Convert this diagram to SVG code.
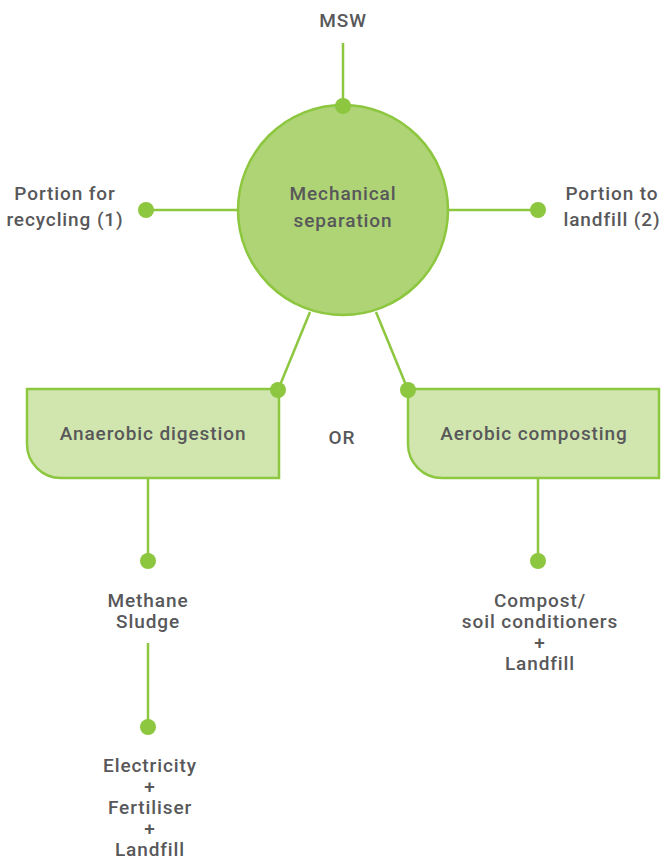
<svg xmlns="http://www.w3.org/2000/svg" width="663" height="861" viewBox="0 0 663 861">
<style>
.t{font-family:Roboto,"Liberation Sans",sans-serif;font-size:19px;letter-spacing:0.9px;fill:#58585a;text-anchor:middle;font-weight:500}
.ln{stroke:#8dc63f;stroke-width:2.5;fill:none}
.dot{fill:#8dc63f}
</style>
<rect width="663" height="861" fill="#fff"/>
<g id="connectors">
<line class="ln" x1="343" y1="43" x2="343" y2="106"/>
<line class="ln" x1="146" y1="210" x2="238" y2="210"/>
<line class="ln" x1="448" y1="210" x2="538" y2="210"/>
<line class="ln" x1="310" y1="312" x2="278" y2="390"/>
<line class="ln" x1="376" y1="312" x2="408" y2="390"/>
<line class="ln" x1="148" y1="478" x2="148" y2="561"/>
<line class="ln" x1="148" y1="643" x2="148" y2="727"/>
<line class="ln" x1="538" y1="478" x2="538" y2="561"/>
</g>
<g id="msw"><text class="t" x="343" y="27">MSW</text></g>
<g id="mech">
<circle cx="343" cy="210" r="105" fill="#aed476" stroke="#8dc63f" stroke-width="2.5"/>
<text class="t" x="343" y="200">Mechanical</text>
<text class="t" x="343" y="227">separation</text>
</g>
<g id="recycling">
<text class="t" x="65" y="200">Portion for</text>
<text class="t" x="65" y="226">recycling (1)</text>
</g>
<g id="landfill2">
<text class="t" x="612" y="200">Portion to</text>
<text class="t" x="612" y="226">landfill (2)</text>
</g>
<g id="anaerobic">
<path d="M27,389 H279 V478 H61 A34,34 0 0 1 27,444 Z" fill="#d1e6ae" stroke="#8dc63f" stroke-width="2.5"/>
<text class="t" x="153" y="440">Anaerobic digestion</text>
</g>
<g id="or"><text class="t" x="342" y="444">OR</text></g>
<g id="aerobic">
<path d="M408,389 H659 V478 H442 A34,34 0 0 1 408,444 Z" fill="#d1e6ae" stroke="#8dc63f" stroke-width="2.5"/>
<text class="t" x="534" y="440">Aerobic composting</text>
</g>
<g id="methane">
<text class="t" x="148" y="607">Methane</text>
<text class="t" x="148" y="628">Sludge</text>
</g>
<g id="electricity">
<text class="t" x="150" y="772">Electricity</text>
<text class="t" x="150" y="793">+</text>
<text class="t" x="150" y="814">Fertiliser</text>
<text class="t" x="150" y="835">+</text>
<text class="t" x="150" y="856">Landfill</text>
</g>
<g id="compost">
<text class="t" x="540" y="607">Compost/</text>
<text class="t" x="540" y="628">soil conditioners</text>
<text class="t" x="540" y="649">+</text>
<text class="t" x="540" y="670">Landfill</text>
</g>
<g id="dots">
<circle class="dot" cx="343" cy="106" r="8"/>
<circle class="dot" cx="146" cy="210" r="8"/>
<circle class="dot" cx="538" cy="210" r="8"/>
<circle class="dot" cx="278" cy="390" r="8"/>
<circle class="dot" cx="408" cy="390" r="8"/>
<circle class="dot" cx="148" cy="561" r="8"/>
<circle class="dot" cx="148" cy="727" r="8"/>
<circle class="dot" cx="538" cy="561" r="8"/>
</g>
</svg>
